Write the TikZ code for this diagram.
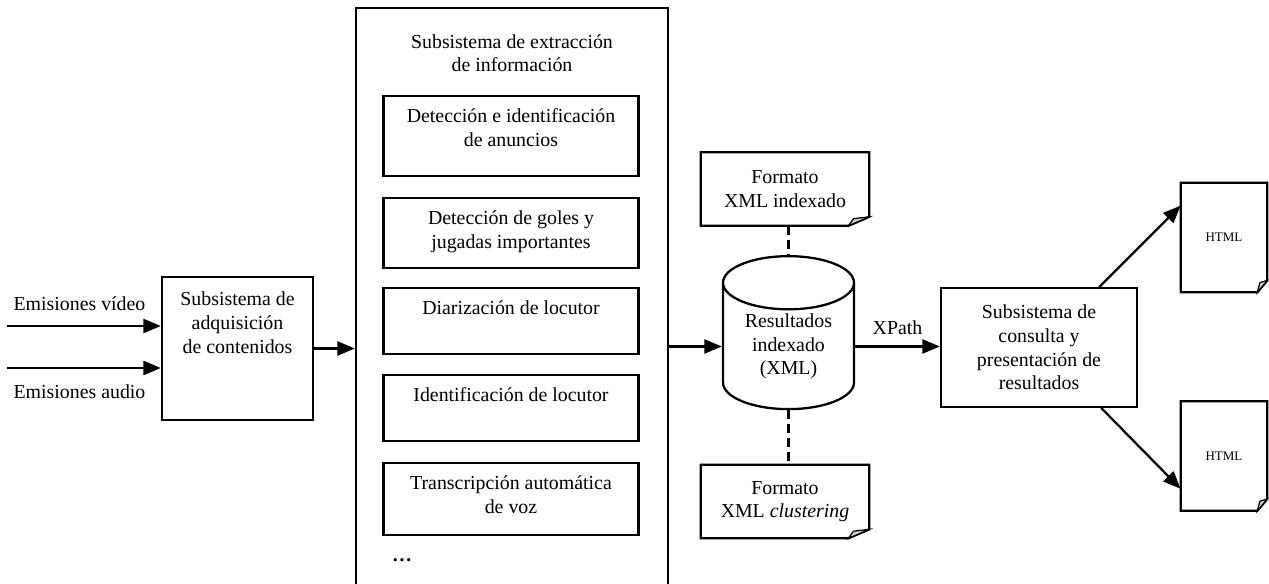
\documentclass[tikz,border=0pt]{standalone}
\usepackage{fontspec}
\setmainfont{Liberation Serif}
\usepackage{tikz}
\usetikzlibrary{arrows.meta,shapes.geometric}

% document with folded corner: node, fold width, fold height
\newcommand{\foldeddoc}[3]{%
  \draw[line width=1.3pt] ([xshift=-#2]#1.south east) -- (#1.south west) -- (#1.north west)
    -- (#1.north east) -- ([yshift=#3]#1.south east) -- cycle;
  \draw[line width=0.7pt, fill=gray!35] ([xshift=-#2]#1.south east)
    -- ([xshift=-0.75*#2, yshift=0.8*#3]#1.south east) -- ([yshift=#3]#1.south east) -- cycle;
}

\begin{document}
\begin{tikzpicture}[
    x=0.02cm, y=-0.02cm,
    every node/.style={font=\fontsize{11.3}{13.4}\selectfont},
    box/.style={rectangle, draw, line width=1.3pt, inner sep=0pt},
    stage/.style={box, minimum width=5.1cm},
    stagetext/.style={anchor=north, align=center, inner sep=0pt, yshift=-0.27cm},
    doc/.style={rectangle, inner sep=0pt, align=center},
    store/.style={cylinder, shape border rotate=90, draw, line width=1.3pt, aspect=0.61,
                  minimum width=2.62cm, minimum height=3.06cm, align=center, inner sep=0pt},
    arrow/.style={-{Triangle[length=10pt, width=8pt]}, line width=1.3pt},
    link/.style={line width=1.3pt, dash pattern=on 5pt off 3pt}
]
\useasboundingbox (0,0) rectangle (1269,584);

% Inputs
\coordinate (vin) at (7,326);
\coordinate (ain) at (7,368);
\node (vlabel) at (79.5,304) {Emisiones vídeo};
\node (alabel) at (79.5,392) {Emisiones audio};

% Acquisition
\node[box, minimum width=3.02cm, minimum height=2.86cm,
      label={[stagetext, yshift=-0.05cm]north:{Subsistema de\\adquisición\\de contenidos}}] (acquisition) at (237.5,348.5) {};

% Extraction subsystem
\node[box, minimum width=6.24cm, minimum height=11.84cm] (extraction) at (512,304) {};
\node[align=center] (extitle) at (512,53) {Subsistema de extracción\\de información};
\node[stage, minimum height=1.6cm, label={[stagetext]north:{Detección e identificación\\de anuncios}}] (anuncios) at (511,136) {};
\node[stage, minimum height=1.4cm, label={[stagetext]north:{Detección de goles y\\jugadas importantes}}] (goles) at (511,233) {};
\node[stage, minimum height=1.32cm, label={[stagetext]north:{Diarización de locutor}}] (diarizacion) at (511,321) {};
\node[stage, minimum height=1.32cm, label={[stagetext]north:{Identificación de locutor}}] (identificacion) at (511,408) {};
\node[stage, minimum height=1.44cm, label={[stagetext]north:{Transcripción automática\\de voz}}] (transcripcion) at (511,499) {};
\node (more) at (402,560) {\textbf{\ldots}};

% Results
\node[store] (results) at (788.5,346.5) {Resultados\\indexado\\(XML)};
\node[doc, minimum width=3.36cm, minimum height=1.46cm] (xmlidx) at (785,189) {Formato\\XML indexado};
\node[doc, minimum width=3.36cm, minimum height=1.46cm] (xmlclu) at (785,501.5) {Formato\\XML \textit{clustering}};
\foldeddoc{xmlidx}{0.42cm}{0.18cm}
\foldeddoc{xmlclu}{0.42cm}{0.18cm}

% Query and presentation
\node[box, minimum width=3.92cm, minimum height=2.37cm, align=center] (consulta) at (1039,347.5) {Subsistema de\\consulta y\\presentación de\\resultados};
\node[doc, minimum width=1.72cm, minimum height=2.18cm, font=\fontsize{7.4}{9}\selectfont] (html1) at (1224,237.5) {HTML};
\node[doc, minimum width=1.72cm, minimum height=2.18cm, font=\fontsize{7.4}{9}\selectfont] (html2) at (1224,456) {HTML};
\foldeddoc{html1}{0.2cm}{0.24cm}
\foldeddoc{html2}{0.2cm}{0.24cm}

% Connections
\draw[arrow] (vin) -- (vin -| acquisition.west);
\draw[arrow] (ain) -- (ain -| acquisition.west);
\draw[arrow] (acquisition.east) -- (acquisition.east -| extraction.west);
\draw[arrow] (extraction.east |- results.west) -- (results.west);
\draw[arrow] (results.east) -- node[above=3pt] {XPath} (results.east -| consulta.west);
\draw[link] (results.north |- xmlidx.south) -- (results.north);
\draw[link] (results.south) -- (results.south |- xmlclu.north);
\draw[arrow] ([xshift=-0.78cm]consulta.north east) -- ([yshift=-0.46cm]html1.north west);
\draw[arrow] ([xshift=-0.74cm]consulta.south east) -- ([yshift=0.44cm]html2.south west);

\end{tikzpicture}
\end{document}
